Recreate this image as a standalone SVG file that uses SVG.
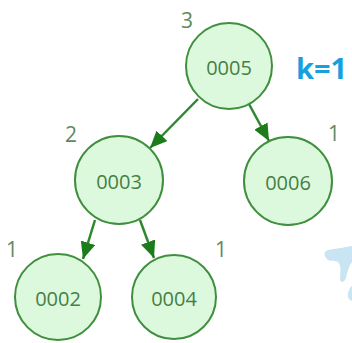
<svg xmlns="http://www.w3.org/2000/svg" width="352" height="343" viewBox="0 0 352 343">
  <defs>
    <marker id="arrow" viewBox="0 0 17 15" refX="17" refY="7.5" markerWidth="17" markerHeight="15" orient="auto" markerUnits="userSpaceOnUse">
      <path d="M0,0 L17,7.5 L0,15 z" fill="#1c7c1c"/>
    </marker>
  </defs>
  <style>
    .node circle { fill: #ddf9dd; stroke: #3f8f3f; stroke-width: 2; }
    .node text { font-family: "Open Sans", "DejaVu Sans", sans-serif; font-size: 20px; fill: #457f45; text-anchor: middle; dominant-baseline: central; }
    .h { font-family: "Open Sans", "DejaVu Sans", sans-serif; font-size: 21px; fill: #5f8a5f; text-anchor: middle; }
    .edges line { stroke: #2f882f; stroke-width: 2.5; marker-end: url(#arrow); }
  </style>
  <rect width="352" height="343" fill="#ffffff"/>

  <g class="edges">
    <line x1="198" y1="99" x2="150" y2="148"/>
    <line x1="249" y1="104" x2="269" y2="141"/>
    <line x1="95" y1="220" x2="83" y2="259"/>
    <line x1="140" y1="220" x2="154" y2="258"/>
  </g>

  <g id="n0005" class="node">
    <circle cx="229" cy="66" r="43"/>
    <text x="229" y="67">0005</text>
  </g>
  <g id="n0003" class="node">
    <circle cx="119" cy="180" r="44"/>
    <text x="119" y="181">0003</text>
  </g>
  <g id="n0006" class="node">
    <circle cx="288" cy="181" r="44"/>
    <text x="288" y="182">0006</text>
  </g>
  <g id="n0002" class="node">
    <circle cx="58" cy="297" r="43"/>
    <text x="58" y="298">0002</text>
  </g>
  <g id="n0004" class="node">
    <circle cx="174" cy="297" r="42"/>
    <text x="174" y="298">0004</text>
  </g>

  <g id="heights">
    <text class="h" x="187" y="28">3</text>
    <text class="h" x="71" y="142">2</text>
    <text class="h" x="334" y="141">1</text>
    <text class="h" x="12" y="257">1</text>
    <text class="h" x="221" y="257">1</text>
  </g>

  <text x="296" y="79" font-family="'Open Sans', 'DejaVu Sans', sans-serif" font-size="29" font-weight="bold" fill="#17a0de">k=1</text>

  <path d="M326,251 C332,248 340,249 346,247 L352,246 L352,262 C349,266 347,272 346,278 C344,283 340,283 340,279 C340,273 342,267 338,262 C334,260 330,262 327,259 C324,256 324,253 326,251 z M352,286 L352,301 C349,300 347,297 348,293 C349,290 350,287 352,286 z" fill="#c9e4f3"/>
</svg>
